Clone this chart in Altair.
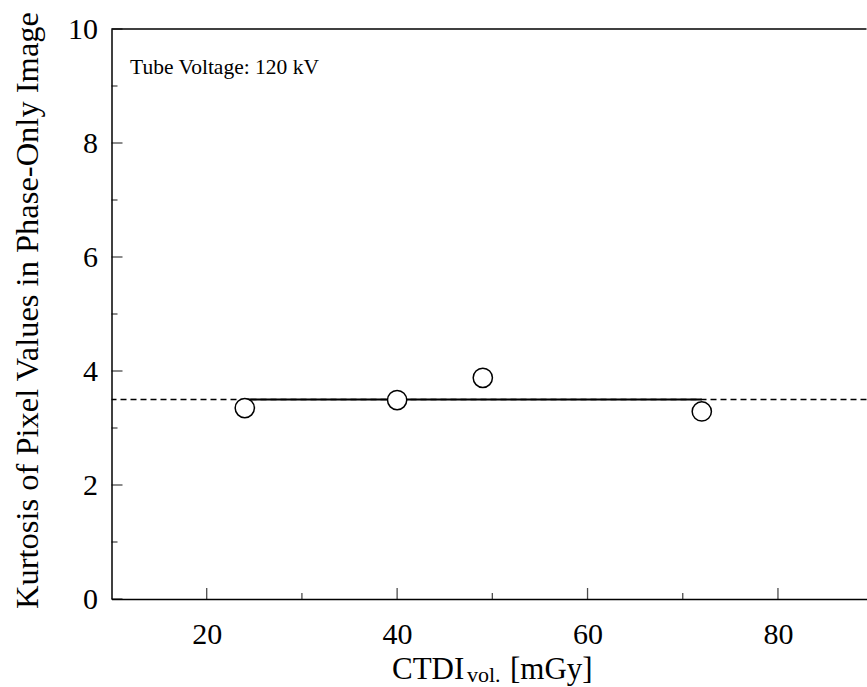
import altair as alt
import pandas as pd

# Measured kurtosis of pixel values in the phase-only image (120 kV)
ctdi_vol = [24, 40, 49, 72]
kurtosis = [3.35, 3.49, 3.88, 3.29]
mean_kurtosis = 3.5

x_major = [20, 40, 60, 80]
x_minor = [30, 50, 70]
y_major = [0, 2, 4, 6, 8, 10]
y_minor = [1, 3, 5, 7, 9]

FONT = "Liberation Serif"
X_DOMAIN = [10, 89.3]
Y_DOMAIN = [0, 10]

points = pd.DataFrame({"ctdi": ctdi_vol, "kurtosis": kurtosis})

x_scale = alt.Scale(domain=X_DOMAIN, nice=False, zero=False)
y_scale = alt.Scale(domain=Y_DOMAIN, nice=False, zero=False)

x_axis = alt.Axis(
    values=x_major, format="d", tickSize=0, grid=False,
    domainColor="black", domainWidth=1.5,
    labelFont=FONT, labelFontSize=30, labelColor="black",
    labelBaseline="alphabetic", labelPadding=44, title=None,
)
y_axis = alt.Axis(
    values=y_major, format="d", tickSize=0, grid=False,
    domainColor="black", domainWidth=1.5,
    labelFont=FONT, labelFontSize=30, labelColor="black", labelPadding=14,
    title="Kurtosis of Pixel Values in Phase-Only Image",
    titleFont=FONT, titleFontSize=32.5, titleFontWeight="normal", titleColor="black",
    titleAngle=-90, titleX=-84, titleY=281, titleAlign="center", titleBaseline="middle",
)

# invisible base layer carrying the axes
base = alt.Chart(points).mark_point(opacity=0).encode(
    x=alt.X("ctdi:Q", scale=x_scale, axis=x_axis),
    y=alt.Y("kurtosis:Q", scale=y_scale, axis=y_axis),
)

# top frame line
top_line = alt.Chart().mark_rule(color="black", strokeWidth=1.5).encode(
    y=alt.datum(Y_DOMAIN[1], scale=y_scale)
)

# inward tick marks
def ticks(values, length, on_x):
    df = pd.DataFrame({"v": values})
    if on_x:
        return alt.Chart(df).mark_tick(
            orient="vertical", size=length, thickness=1.3, color="black",
            yOffset=-length / 2,
        ).encode(x=alt.X("v:Q", scale=x_scale), y=alt.datum(Y_DOMAIN[0], scale=y_scale))
    return alt.Chart(df).mark_tick(
        orient="horizontal", size=length, thickness=1.3, color="black",
        xOffset=length / 2,
    ).encode(y=alt.Y("v:Q", scale=y_scale), x=alt.datum(X_DOMAIN[0], scale=x_scale))

x_major_ticks = ticks(x_major, 11, True)
x_minor_ticks = ticks(x_minor, 6, True)
y_major_ticks = ticks(y_major, 11, False)
y_minor_ticks = ticks(y_minor, 6, False)

# mean level: dashed across the full range, solid over the measured range
mean_dashed = alt.Chart().mark_rule(
    color="black", strokeWidth=1.3, strokeDash=[6, 4]
).encode(y=alt.datum(mean_kurtosis, scale=y_scale))

mean_solid = alt.Chart().mark_rule(color="black", strokeWidth=1.8).encode(
    x=alt.datum(min(ctdi_vol), scale=x_scale),
    x2=alt.datum(max(ctdi_vol)),
    y=alt.datum(mean_kurtosis, scale=y_scale),
)

circles = alt.Chart(points).mark_point(
    shape="circle", size=370, filled=True, fill="white",
    stroke="black", strokeWidth=1.5, opacity=1,
).encode(
    x=alt.X("ctdi:Q", scale=x_scale),
    y=alt.Y("kurtosis:Q", scale=y_scale),
)

annotation = alt.Chart().mark_text(
    text="Tube Voltage: 120 kV", font=FONT, fontSize=21.5, color="black",
    align="left", baseline="alphabetic",
).encode(x=alt.value(18.5), y=alt.value(45))

# x-axis title with subscript
def title_part(text, x, y, size):
    return alt.Chart().mark_text(
        text=text, font=FONT, fontSize=size, color="black",
        align="left", baseline="alphabetic",
    ).encode(x=alt.value(x), y=alt.value(y))

x_title = (
    title_part("CTDI", 280.5, 650, 31)
    + title_part("vol.", 355.5, 653, 22)
    + title_part("[mGy]", 398.5, 650, 31)
)

chart = alt.layer(
    base, top_line, x_major_ticks, x_minor_ticks, y_major_ticks, y_minor_ticks,
    mean_dashed, mean_solid, circles, annotation, x_title,
).properties(
    width=755, height=570,
    autosize=alt.AutoSizeParams(type="none"),
    padding={"left": 111.5, "top": 29, "right": 0, "bottom": 88},
    background="white",
).configure_view(stroke=None)

chart.save("out.html", embed_options={"renderer": "svg", "actions": False})
